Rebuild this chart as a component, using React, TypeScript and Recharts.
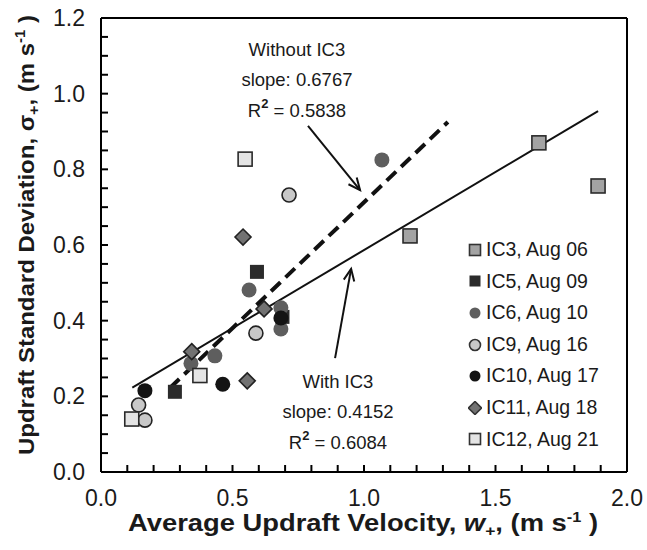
import React from 'react';
import {
    ScatterChart,
    Scatter,
    XAxis,
    YAxis,
    ReferenceLine,
    ReferenceDot,
} from 'recharts';

const FONT = '"Liberation Sans", Arial, Helvetica, sans-serif';

// points (x = average updraft velocity, y = updraft std dev)
const ic3 = [
    { x: 1.175, y: 0.624 },
    { x: 1.665, y: 0.87 },
    { x: 1.89, y: 0.756 },
];
const ic5 = [
    { x: 0.281, y: 0.212 },
    { x: 0.593, y: 0.529 },
    { x: 0.69, y: 0.41 },
];
const ic6 = [
    { x: 0.342, y: 0.287 },
    { x: 0.433, y: 0.307 },
    { x: 0.563, y: 0.481 },
    { x: 0.684, y: 0.434 },
    { x: 0.684, y: 0.378 },
    { x: 1.068, y: 0.825 },
];
const ic9 = [
    { x: 0.143, y: 0.177 },
    { x: 0.167, y: 0.137 },
    { x: 0.589, y: 0.367 },
    { x: 0.715, y: 0.732 },
];
const ic10 = [
    { x: 0.167, y: 0.215 },
    { x: 0.463, y: 0.232 },
    { x: 0.684, y: 0.407 },
];
const ic11 = [
    { x: 0.345, y: 0.318 },
    { x: 0.556, y: 0.241 },
    { x: 0.54, y: 0.621 },
    { x: 0.62, y: 0.431 },
];
const ic12 = [
    { x: 0.117, y: 0.14 },
    { x: 0.376, y: 0.255 },
    { x: 0.548, y: 0.827 },
];

// fitted lines, endpoints as drawn
const withIc3Line = [
    { x: 0.119, y: 0.223 },
    { x: 1.89, y: 0.954 },
];
const withoutIc3Line = [
    { x: 0.262, y: 0.222 },
    { x: 1.319, y: 0.925 },
];

const X_TICKS = [0, 0.1, 0.2, 0.3, 0.4, 0.5, 0.6, 0.7, 0.8, 0.9, 1, 1.1, 1.2, 1.3, 1.4, 1.5, 1.6, 1.7, 1.8, 1.9, 2];
const Y_TICKS = [0, 0.05, 0.1, 0.15, 0.2, 0.25, 0.3, 0.35, 0.4, 0.45, 0.5, 0.55, 0.6, 0.65, 0.7, 0.75, 0.8, 0.85, 0.9, 0.95, 1, 1.05, 1.1, 1.15, 1.2];

const SERIES = [
    { name: 'IC3, Aug 06', data: ic3, kind: 'square', fill: '#a3a3a3', stroke: '#2a2a2a', size: 14 },
    { name: 'IC5, Aug 09', data: ic5, kind: 'square', fill: '#2b2b2b', stroke: 'none', size: 14 },
    { name: 'IC6, Aug 10', data: ic6, kind: 'circle', fill: '#5e5e5e', stroke: 'none', size: 15 },
    { name: 'IC9, Aug 16', data: ic9, kind: 'circle', fill: '#c8c8c8', stroke: '#222', size: 14 },
    { name: 'IC10, Aug 17', data: ic10, kind: 'circle', fill: '#141414', stroke: 'none', size: 15 },
    { name: 'IC11, Aug 18', data: ic11, kind: 'diamond', fill: '#727272', stroke: '#222', size: 16 },
    { name: 'IC12, Aug 21', data: ic12, kind: 'square', fill: '#e4e4e4', stroke: '#2a2a2a', size: 14 },
];

function Marker({ kind, cx, cy, fill, stroke, size }: any) {
    const sw = stroke === 'none' ? 0 : 1.6;
    if (kind === 'square') {
        return <rect x={cx - size / 2} y={cy - size / 2} width={size} height={size} fill={fill} stroke={stroke} strokeWidth={sw} />;
    }
    if (kind === 'circle') {
        return <circle cx={cx} cy={cy} r={size / 2} fill={fill} stroke={stroke} strokeWidth={sw} />;
    }
    const h = size / 2;
    return (
        <polygon
            points={`${cx},${cy - h} ${cx + h},${cy} ${cx},${cy + h} ${cx - h},${cy}`}
            fill={fill}
            stroke={stroke}
            strokeWidth={sw}
        />
    );
}

const XTick = ({ x, y, payload }: any) => {
    const v = payload.value;
    const major = Math.abs(v * 2 - Math.round(v * 2)) < 1e-6;
    return (
        <g>
            <line x1={x} y1={y} x2={x} y2={y - 7} stroke="#000" strokeWidth={2} />
            {major && (
                <text x={x} y={y + 34} textAnchor="middle" fontSize={23} fontFamily={FONT} fill="#1a1a1a">
                    {v.toFixed(1)}
                </text>
            )}
        </g>
    );
};

const YTick = ({ x, y, payload }: any) => {
    const v = payload.value;
    const major = Math.abs(v * 5 - Math.round(v * 5)) < 1e-6;
    return (
        <g>
            <line x1={x} y1={y} x2={x + 7} y2={y} stroke="#000" strokeWidth={2} />
            {major && (
                <text x={x - 16} y={y + 8} textAnchor="end" fontSize={23} fontFamily={FONT} fill="#1a1a1a">
                    {v.toFixed(1)}
                </text>
            )}
        </g>
    );
};

const Arrow = (p: any) => {
    const { x1, y1, x2, y2 } = p;
    const ang = Math.atan2(y2 - y1, x2 - x1);
    const L = 13;
    const a = 0.42;
    const ax = x2 - L * Math.cos(ang - a);
    const ay = y2 - L * Math.sin(ang - a);
    const bx = x2 - L * Math.cos(ang + a);
    const by = y2 - L * Math.sin(ang + a);
    return (
        <g>
            <line x1={x1} y1={y1} x2={x2} y2={y2} stroke="#111" strokeWidth={2} />
            <polyline points={`${ax},${ay} ${x2},${y2} ${bx},${by}`} fill="none" stroke="#111" strokeWidth={2} />
        </g>
    );
};

const annotation = (title: string, slope: string, r2: string) => (p: any) => (
    <text x={p.cx} y={p.cy} textAnchor="middle" fontSize={18.5} fontFamily={FONT} fill="#1a1a1a">
        <tspan x={p.cx}>{title}</tspan>
        <tspan x={p.cx} dy={30}>{slope}</tspan>
        <tspan x={p.cx} dy={31}>R</tspan>
        <tspan dy={-9} fontSize={13} fontWeight="bold">2</tspan>
        <tspan dy={9}>{' = ' + r2}</tspan>
    </text>
);

const LegendBox = () => (
    <div style={{ position: 'absolute', left: 468, top: 234, fontFamily: FONT, fontSize: 19.5, color: '#1a1a1a' }}>
        {SERIES.map((s) => (
            <div key={s.name} style={{ height: 31.6, display: 'flex', alignItems: 'center' }}>
                <svg width={14} height={14} style={{ display: 'block' }}>
                    <Marker kind={s.kind} cx={7} cy={7} fill={s.fill} stroke={s.stroke === 'none' ? 'none' : '#333'} size={s.kind === 'diamond' ? 13 : 11} />
                </svg>
                <span style={{ marginLeft: 4, lineHeight: 1, whiteSpace: 'nowrap' }}>{s.name}</span>
            </div>
        ))}
    </div>
);

export default function App() {
    return (
        <div style={{ position: 'absolute', left: 0, top: 0, width: 647, height: 550, background: '#fff' }}>
            <ScatterChart width={647} height={550} margin={{ top: 18, right: 20, bottom: 0, left: 0 }}>
                <XAxis
                    type="number"
                    dataKey="x"
                    domain={[0, 2]}
                    ticks={X_TICKS}
                    interval={0}
                    height={78}
                    tickSize={0}
                    tickMargin={0}
                    tickLine={false}
                    axisLine={{ stroke: '#000', strokeWidth: 2 }}
                    tick={<XTick />}
                    label={{
                        content: (props: any) => {
                            const vb = props.viewBox;
                            const cx = vb.x + vb.width / 2 - 1;
                            return (
                                <text
                                    x={cx}
                                    y={vb.y + 59}
                                    textAnchor="middle"
                                    fontSize={23.5}
                                    fontWeight="bold"
                                    fontFamily={FONT}
                                    fill="#1a1a1a"
                                    textLength={470}
                                    lengthAdjust="spacingAndGlyphs"
                                >
                                    Average Updraft Velocity,{' '}
                                    <tspan fontStyle="italic">w</tspan>
                                    <tspan dy={5} fontSize={15}>+</tspan>
                                    <tspan dy={-5}>, (m s</tspan>
                                    <tspan dy={-9} fontSize={14}>-1</tspan>
                                    <tspan dy={9}> )</tspan>
                                </text>
                            );
                        },
                    }}
                />
                <YAxis
                    type="number"
                    dataKey="y"
                    domain={[0, 1.2]}
                    ticks={Y_TICKS}
                    interval={0}
                    width={101}
                    tickSize={0}
                    tickMargin={0}
                    tickLine={false}
                    axisLine={{ stroke: '#000', strokeWidth: 2 }}
                    tick={<YTick />}
                    label={{
                        content: (props: any) => {
                            const vb = props.viewBox;
                            const cy = vb.y + vb.height / 2 - 10;
                            return (
                                <text
                                    x={34}
                                    y={cy}
                                    transform={`rotate(-90 34 ${cy})`}
                                    textAnchor="middle"
                                    fontSize={22.5}
                                    fontWeight="bold"
                                    fontFamily={FONT}
                                    fill="#1a1a1a"
                                    textLength={440}
                                    lengthAdjust="spacingAndGlyphs"
                                >
                                    Updraft Standard Deviation, σ
                                    <tspan dy={5} fontSize={15}>+</tspan>
                                    <tspan dy={-5}>, (m s</tspan>
                                    <tspan dy={-9} fontSize={14}>-1</tspan>
                                    <tspan dy={9}> )</tspan>
                                </text>
                            );
                        },
                    }}
                />
                <ReferenceLine y={1.2} stroke="#000" strokeWidth={2} />
                <ReferenceLine x={2} stroke="#000" strokeWidth={2} />

                <Scatter
                    data={withIc3Line}
                    line={{ stroke: '#111', strokeWidth: 2 }}
                    shape={() => <g />}
                    legendType="none"
                    isAnimationActive={false}
                />
                <Scatter
                    data={withoutIc3Line}
                    line={{ stroke: '#111', strokeWidth: 4, strokeDasharray: '13 7' }}
                    shape={() => <g />}
                    legendType="none"
                    isAnimationActive={false}
                />

                {SERIES.map((s) => (
                    <Scatter
                        key={s.name}
                        name={s.name}
                        data={s.data}
                        isAnimationActive={false}
                        shape={(p: any) => <Marker kind={s.kind} cx={p.cx} cy={p.cy} fill={s.fill} stroke={s.stroke} size={s.size} />}
                    />
                ))}

                <ReferenceLine segment={[{ x: 0.787, y: 0.915 }, { x: 0.985, y: 0.745 }]} shape={Arrow} />
                <ReferenceLine segment={[{ x: 0.89, y: 0.301 }, { x: 0.951, y: 0.537 }]} shape={Arrow} />
                <ReferenceDot x={0.745} y={1.1} r={1} shape={annotation('Without IC3', 'slope: 0.6767', '0.5838')} />
                <ReferenceDot x={0.901} y={0.222} r={1} shape={annotation('With IC3', 'slope: 0.4152', '0.6084')} />
            </ScatterChart>
            <LegendBox />
        </div>
    );
}
